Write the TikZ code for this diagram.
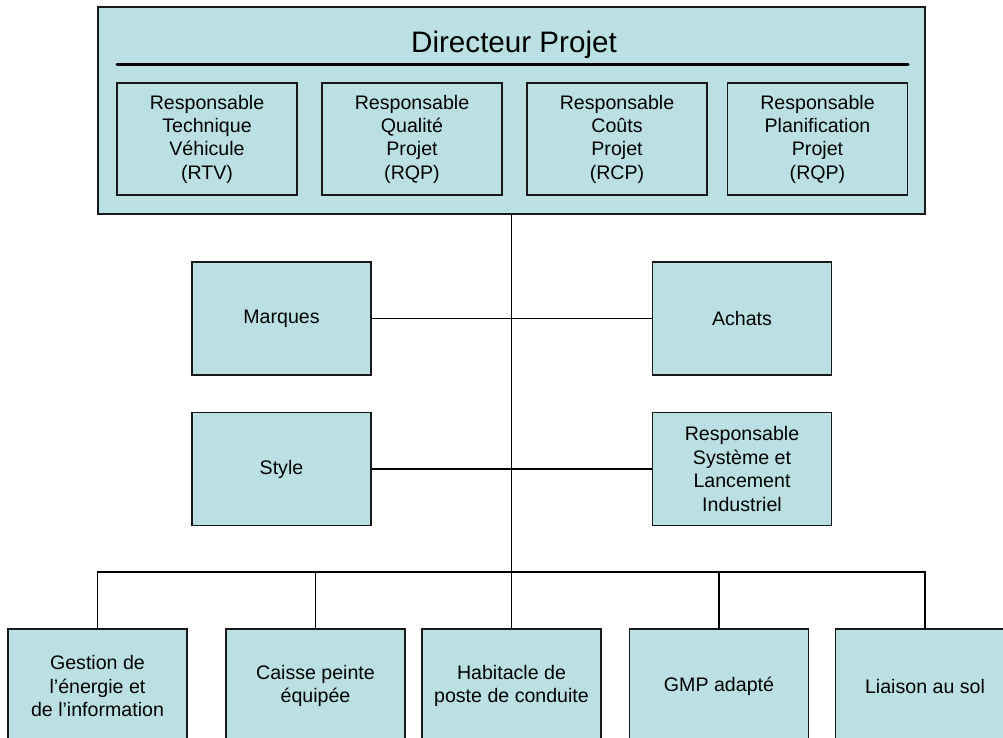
\documentclass[tikz,border=0pt]{standalone}
\usepackage{fontspec}
\setmainfont{Liberation Sans}
\definecolor{boxblue}{RGB}{187,224,227}

\begin{document}
\begin{tikzpicture}[x=1pt,y=-1pt,
    orgbox/.style={draw=black!90, line width=1.5pt, fill=boxblue,
        minimum width=179pt, minimum height=113pt, inner sep=2pt,
        align=center, font=\fontsize{19.6}{23.5}\selectfont},
    subbox/.style={draw=black!90, line width=1.5pt,
        minimum width=180pt, minimum height=112pt, inner sep=2pt,
        align=center, font=\fontsize{19.6}{23.3}\selectfont},
    link/.style={line width=1.5pt}]
    \clip (0,0) rectangle (1003,738);

    % director
    \node[draw=black!90, line width=1.5pt, fill=boxblue,
        minimum width=827pt, minimum height=207pt] (dir) at (511.5,110.5) {};
    \node[font=\fontsize{29.6}{34}\selectfont, anchor=base] (title) at (514,53) {Directeur Projet};
    \coordinate (ruleL) at (117,65);
    \coordinate (ruleR) at (908,65);
    \draw[line width=3pt, line cap=round] (ruleL) -- (ruleR);

    % responsables
    \node[subbox] (rtv) at (207,139) {Responsable\\Technique\\Véhicule\\(RTV)};
    \node[subbox] (rqp) at (412,139) {Responsable\\Qualité\\Projet\\(RQP)};
    \node[subbox] (rcp) at (617,139) {Responsable\\Coûts\\Projet\\(RCP)};
    \node[subbox] (rpp) at (817.5,139) {Responsable\\Planification\\Projet\\(RQP)};

    % middle
    \node[orgbox] (marques) at (281.5,318.5) {Marques};
    \node[orgbox] (achats) at (742,318.5) {Achats};
    \node[orgbox] (style) at (281.5,469) {Style};
    \node[orgbox] (rsli) at (742,469) {Responsable\\Système et\\Lancement\\Industriel};

    % bottom
    \node[orgbox, minimum height=114pt] (gestion) at (97.5,686) {Gestion de\\l’énergie et\\de l’information};
    \node[orgbox, minimum height=114pt] (caisse) at (315.5,686) {Caisse peinte\\équipée};
    \node[orgbox, minimum height=114pt] (habitacle) at (511.5,686) {Habitacle de\\poste de conduite};
    \node[orgbox, minimum height=114pt] (gmp) at (719,686) {GMP adapté};
    \node[orgbox, minimum height=114pt] (liaison) at (925,686) {Liaison au sol};

    % links
    \coordinate (bar) at (511.5,572);
    \draw[link] (dir.south) -- (habitacle.north);
    \draw[link] (marques) -- (achats);
    \draw[link] (style) -- (rsli);
    \draw[link] (gestion.north) |- (bar) -| (liaison.north);
    \draw[link] (caisse.north) -- (caisse.north |- bar);
    \draw[link] (gmp.north) -- (gmp.north |- bar);
\end{tikzpicture}
\end{document}
